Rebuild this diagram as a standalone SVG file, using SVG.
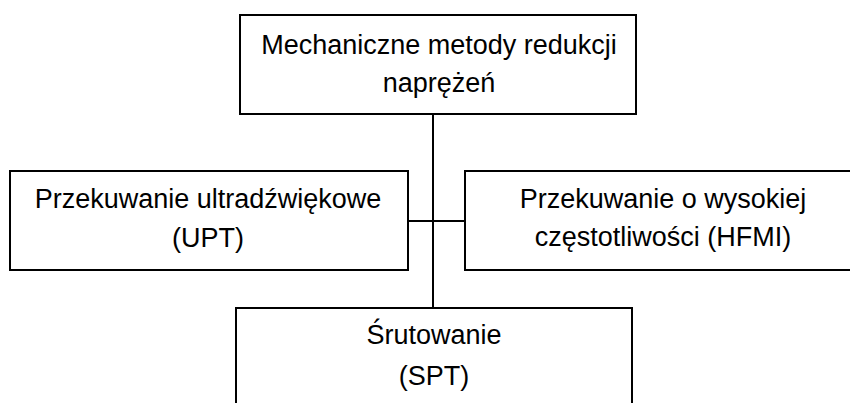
<svg xmlns="http://www.w3.org/2000/svg" width="850" height="403" viewBox="0 0 850 403">
<style>
.box{fill:#fff;stroke:#000;stroke-width:2}
.t{font-family:"Liberation Sans",Arial,sans-serif;font-size:27px;fill:#000;text-anchor:middle}
.c{stroke:#000;stroke-width:2;fill:none}
</style>
<rect width="850" height="403" fill="#fff"/>
<g id="connectors">
<line class="c" x1="433" y1="114" x2="433" y2="308"/>
<line class="c" x1="408" y1="221" x2="465" y2="221"/>
</g>
<g id="top">
<rect class="box" x="240" y="15" width="396" height="99"/>
<text class="t" x="439" y="54">Mechaniczne metody redukcji</text>
<text class="t" x="439" y="92">naprężeń</text>
</g>
<g id="upt">
<rect class="box" x="10" y="171" width="398" height="99"/>
<text class="t" x="208" y="208">Przekuwanie ultradźwiękowe</text>
<text class="t" x="208" y="247">(UPT)</text>
</g>
<g id="hfmi">
<rect class="box" x="465" y="171" width="396" height="99"/>
<text class="t" x="663" y="208">Przekuwanie o wysokiej</text>
<text class="t" x="663" y="246">częstotliwości (HFMI)</text>
</g>
<g id="spt">
<rect class="box" x="236" y="308" width="396" height="100"/>
<text class="t" x="434" y="344">Śrutowanie</text>
<text class="t" x="434" y="385">(SPT)</text>
</g>
</svg>
